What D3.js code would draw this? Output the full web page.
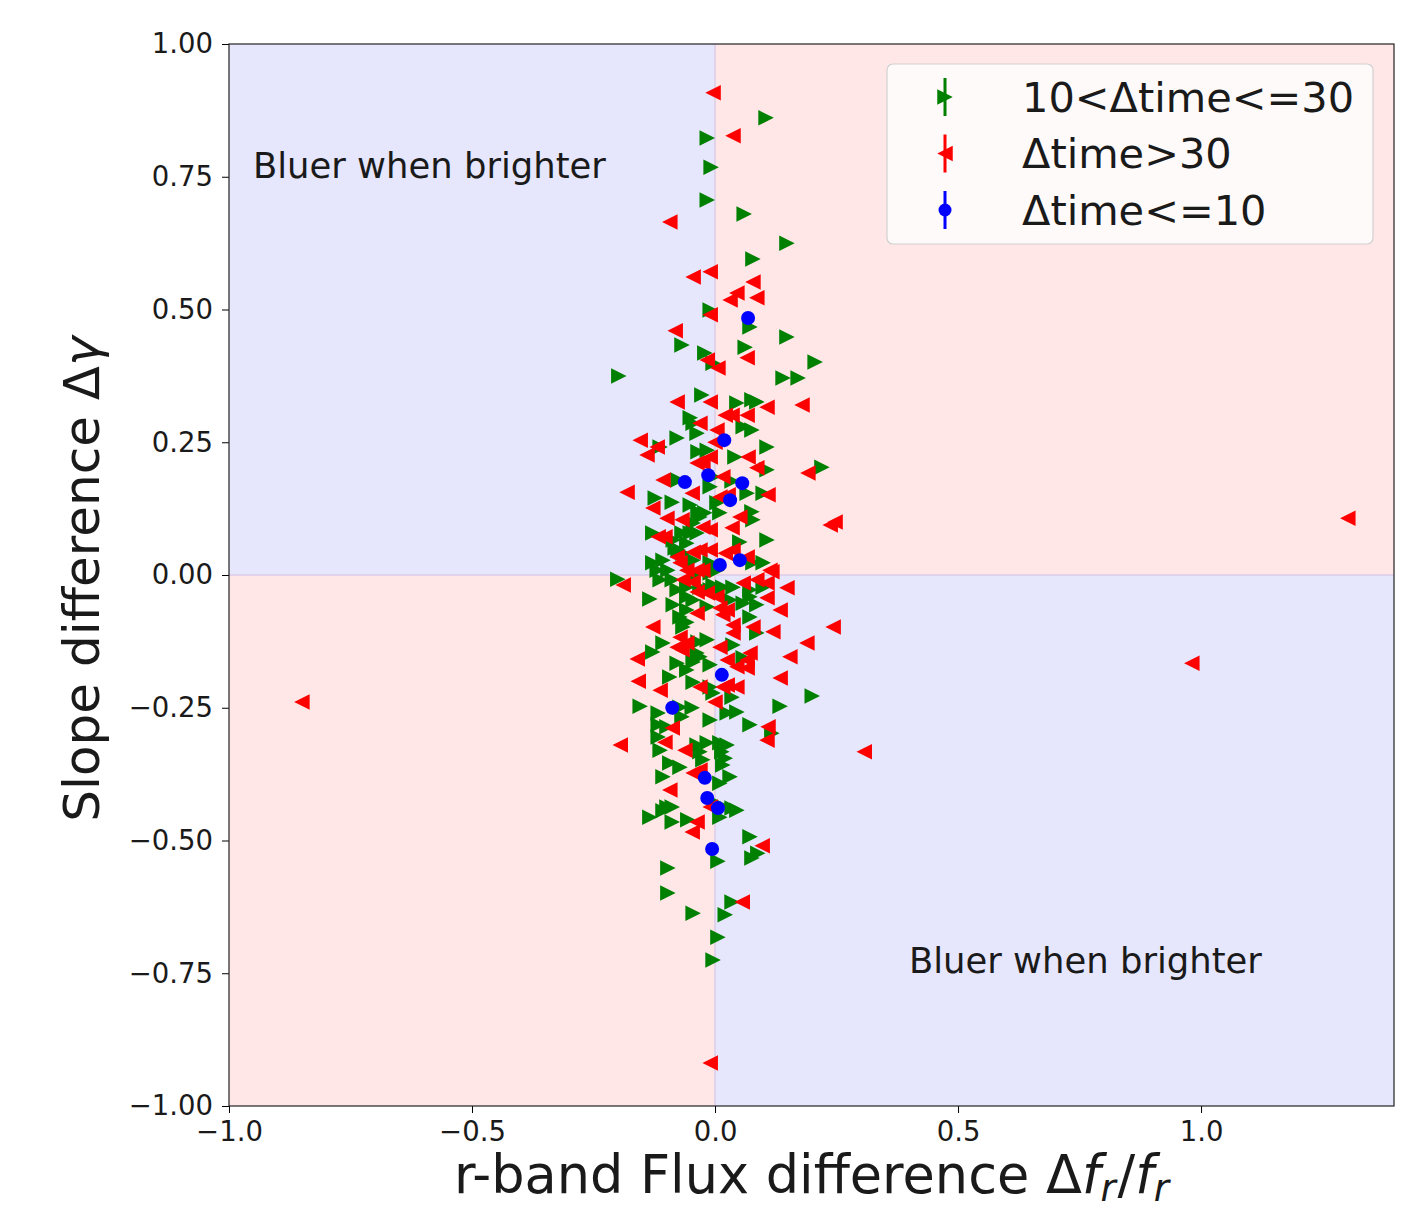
<!DOCTYPE html>
<html>
<head>
<meta charset="utf-8">
<script src="https://cdn.jsdelivr.net/npm/d3@7/dist/d3.min.js"></script>
<style>
  body { margin: 0; background: #fff; }
  svg text { font-family: "DejaVu Sans", sans-serif; fill: #1a1a1a; }
</style>
</head>
<body>
<div id="chart"></div>
<script>
// flux difference (x) and slope difference (y) per group
var greenPts = [
  [0.105,0.861],[-0.016,0.823],[-0.008,0.768],[-0.016,0.706],[0.060,0.680],[0.148,0.625],[0.078,0.595],
  [-0.010,0.499],[0.072,0.467],[0.148,0.448],[-0.068,0.433],[-0.021,0.418],[0.062,0.429],[-0.004,0.399],
  [0.206,0.401],[-0.198,0.375],[0.140,0.371],[0.171,0.371],[-0.027,0.339],[0.045,0.324],[0.076,0.330],
  [0.086,0.326],[-0.051,0.296],[-0.045,0.286],[-0.037,0.267],[0.058,0.279],[0.076,0.273],[-0.078,0.258],
  [-0.113,0.241],[0.107,0.241],[-0.035,0.232],[-0.016,0.235],[0.041,0.222],[0.107,0.198],[0.220,0.203],
  [-0.004,0.185],[-0.076,0.179],[-0.010,0.166],[0.035,0.177],[0.066,0.154],[0.099,0.154],[-0.123,0.145],
  [-0.088,0.137],[0.004,0.136],[-0.051,0.132],[-0.035,0.119],[-0.021,0.117],[0.076,0.119],[0.078,0.104],
  [0.010,0.117],[-0.031,0.109],[-0.128,0.079],[-0.086,0.066],[-0.076,0.047],[-0.068,0.079],[-0.045,0.098],
  [-0.051,0.079],[-0.037,0.079],[0.051,0.062],[0.107,0.066],[-0.082,0.051],[-0.066,0.041],[-0.058,0.060],
  [-0.045,0.028],[0.078,0.023],[0.099,0.023],[-0.128,0.023],[-0.107,0.028],[-0.119,0.009],[-0.097,0.009],
  [-0.010,0.023],[-0.010,0.004],[0.004,0.009],[-0.037,0.004],[-0.200,-0.008],[-0.113,-0.009],[-0.088,-0.009],
  [-0.078,-0.028],[-0.058,-0.023],[-0.031,-0.023],[-0.010,-0.028],[0.016,-0.023],[0.037,-0.023],[0.072,-0.028],
  [0.099,-0.023],[-0.004,-0.019],[-0.134,-0.045],[-0.058,-0.041],[-0.045,-0.047],[0.031,-0.047],[0.058,-0.053],
  [0.072,-0.041],[0.086,-0.056],[-0.086,-0.056],[-0.058,-0.066],[-0.016,-0.060],[-0.072,-0.079],[-0.058,-0.089],
  [-0.066,-0.098],[0.072,-0.079],[0.086,-0.109],[-0.035,-0.126],[-0.016,-0.122],[-0.107,-0.128],[-0.128,-0.145],
  [0.037,-0.132],[0.058,-0.156],[-0.031,-0.154],[-0.045,-0.164],[-0.078,-0.166],[-0.058,-0.179],[-0.010,-0.169],
  [-0.037,-0.147],[-0.093,-0.192],[-0.045,-0.202],[-0.004,-0.222],[0.035,-0.230],[0.200,-0.228],[-0.154,-0.247],
  [-0.117,-0.260],[-0.072,-0.249],[-0.047,-0.250],[-0.010,-0.273],[0.025,-0.260],[0.045,-0.258],[0.134,-0.247],
  [-0.068,-0.267],[-0.117,-0.282],[-0.099,-0.286],[0.072,-0.282],[0.117,-0.298],[-0.117,-0.305],[-0.113,-0.330],
  [-0.037,-0.320],[-0.016,-0.316],[0.010,-0.316],[0.025,-0.320],[-0.031,-0.333],[0.014,-0.333],[0.021,-0.345],
  [-0.025,-0.348],[-0.093,-0.354],[-0.072,-0.362],[0.016,-0.358],[0.031,-0.380],[0.010,-0.392],[-0.107,-0.380],
  [-0.099,-0.437],[-0.134,-0.456],[-0.107,-0.444],[-0.088,-0.437],[-0.088,-0.465],[-0.056,-0.461],[0.010,-0.433],
  [0.045,-0.443],[0.010,-0.456],[0.035,-0.439],[0.072,-0.493],[0.006,-0.539],[0.076,-0.533],[0.088,-0.524],
  [-0.097,-0.552],[-0.097,-0.599],[0.035,-0.616],[-0.045,-0.637],[0.021,-0.640],[0.006,-0.682],[-0.004,-0.725],
  [-0.010,-0.211]
];

var redPts = [
  [-0.004,0.908],[0.037,0.827],[-0.093,0.665],[-0.045,0.561],[-0.010,0.571],[0.078,0.552],[0.045,0.531],
  [0.031,0.518],[0.086,0.522],[-0.010,0.490],[-0.082,0.460],[0.066,0.409],[-0.016,0.405],[0.006,0.390],
  [-0.078,0.326],[-0.010,0.326],[0.107,0.316],[0.179,0.320],[-0.031,0.286],[0.021,0.301],[0.035,0.301],
  [0.066,0.301],[0.004,0.273],[-0.154,0.254],[0.000,0.250],[-0.119,0.241],[-0.140,0.226],[-0.010,0.222],
  [-0.037,0.211],[-0.025,0.211],[0.068,0.222],[0.086,0.202],[0.191,0.192],[-0.107,0.179],[0.016,0.185],
  [-0.181,0.156],[-0.047,0.154],[0.109,0.151],[-0.128,0.126],[0.010,0.147],[0.027,0.151],[0.051,0.109],
  [0.237,0.094],[0.247,0.100],[-0.099,0.107],[-0.068,0.104],[-0.117,0.072],[-0.103,0.072],[-0.025,0.090],
  [-0.010,0.085],[0.035,0.089],[-0.031,0.047],[-0.010,0.047],[0.021,0.041],[0.037,0.047],[-0.078,0.034],
  [-0.045,0.043],[0.066,0.034],[0.113,0.009],[-0.072,0.023],[-0.058,0.009],[-0.025,0.009],[-0.189,-0.019],
  [-0.066,-0.009],[-0.045,-0.013],[-0.037,0.009],[0.058,-0.015],[0.086,-0.009],[0.107,-0.015],[0.117,0.006],
  [0.148,-0.024],[-0.016,-0.034],[-0.037,-0.032],[0.004,-0.041],[0.107,-0.043],[0.134,-0.066],[0.010,-0.062],
  [0.025,-0.066],[-0.037,-0.072],[0.016,-0.075],[0.037,-0.094],[0.037,-0.109],[0.078,-0.098],[0.119,-0.107],
  [0.243,-0.098],[-0.128,-0.098],[-0.072,-0.117],[-0.078,-0.136],[-0.068,-0.141],[0.010,-0.136],[0.189,-0.128],
  [0.072,-0.147],[0.066,-0.160],[0.066,-0.175],[0.045,-0.173],[0.025,-0.160],[0.154,-0.154],[-0.160,-0.158],
  [-0.158,-0.200],[0.025,-0.207],[0.045,-0.211],[0.134,-0.194],[-0.113,-0.217],[-0.031,-0.211],[0.000,-0.239],
  [-0.088,-0.288],[0.109,-0.286],[0.107,-0.311],[-0.195,-0.320],[-0.103,-0.315],[-0.062,-0.330],[-0.045,-0.373],
  [-0.093,-0.405],[-0.037,-0.465],[-0.047,-0.484],[-0.010,-0.437],[0.056,-0.616],[-0.010,-0.919],[1.302,0.107],
  [0.981,-0.166],[-0.850,-0.239],[0.307,-0.333],[0.097,-0.510],[-0.058,-0.128],[0.016,-0.211],[-0.031,-0.367]
];

var bluePts = [
  [0.068,0.484],[0.019,0.254],[-0.062,0.175],[-0.014,0.188],[0.056,0.173],[0.031,0.141],[0.051,0.028],
  [0.010,0.019],[0.014,-0.188],[-0.088,-0.250],[-0.021,-0.382],[-0.016,-0.420],[0.006,-0.439],[-0.006,-0.516]
];

var xTicks = [-1.0, -0.5, 0.0, 0.5, 1.0];
var yTicks = [-1.00, -0.75, -0.50, -0.25, 0.00, 0.25, 0.50, 0.75, 1.00];
var legendLabels = ["10<\u0394time<=30", "\u0394time>30", "\u0394time<=10"];
var quadText = "Bluer when brighter";

var W = 1424, H = 1215;
var margin = {left: 229, top: 44, right: 30, bottom: 109};
var pw = W - margin.left - margin.right, ph = H - margin.top - margin.bottom;

var svg = d3.select("#chart").append("svg").attr("width", W).attr("height", H);
var g = svg.append("g").attr("transform", "translate(" + margin.left + "," + margin.top + ")");

var x = d3.scaleLinear().domain([-1.0, 1.397]).range([0, pw]);
var y = d3.scaleLinear().domain([-1.0, 1.0]).range([ph, 0]);

var blueBg = "#e6e6fc", redBg = "#ffe7e7";
// quadrant shading
g.append("rect").attr("x", x(-1)).attr("y", y(1)).attr("width", x(0) - x(-1)).attr("height", y(0) - y(1)).attr("fill", blueBg);
g.append("rect").attr("x", x(0)).attr("y", y(1)).attr("width", x(1.397) - x(0)).attr("height", y(0) - y(1)).attr("fill", redBg);
g.append("rect").attr("x", x(-1)).attr("y", y(0)).attr("width", x(0) - x(-1)).attr("height", y(-1) - y(0)).attr("fill", redBg);
g.append("rect").attr("x", x(0)).attr("y", y(0)).attr("width", x(1.397) - x(0)).attr("height", y(-1) - y(0)).attr("fill", blueBg);
g.append("line").attr("x1", x(0)).attr("x2", x(0)).attr("y1", 0).attr("y2", ph).attr("stroke", "#dccbe8").attr("stroke-width", 1.5);
g.append("line").attr("x1", 0).attr("x2", pw).attr("y1", y(0)).attr("y2", y(0)).attr("stroke", "#dccbe8").attr("stroke-width", 1.5);

var ms = 15.5;
function triPath(dir) {
  var h = ms / 2;
  if (dir === "right") return "M" + h + ",0L" + (-h) + "," + (-h) + "L" + (-h) + "," + h + "Z";
  return "M" + (-h) + ",0L" + h + "," + (-h) + "L" + h + "," + h + "Z";
}

g.selectAll(".green").data(greenPts).enter().append("path")
  .attr("d", triPath("right"))
  .attr("transform", function(d) { return "translate(" + x(d[0]) + "," + y(d[1]) + ")"; })
  .attr("fill", "#008000");

g.selectAll(".red").data(redPts).enter().append("path")
  .attr("d", triPath("left"))
  .attr("transform", function(d) { return "translate(" + x(d[0]) + "," + y(d[1]) + ")"; })
  .attr("fill", "#ff0000");

g.selectAll(".blue").data(bluePts).enter().append("circle")
  .attr("cx", function(d) { return x(d[0]); })
  .attr("cy", function(d) { return y(d[1]); })
  .attr("r", 7)
  .attr("fill", "#0000ff");

// quadrant labels
g.append("text").attr("x", 24).attr("y", 134).attr("font-size", 35.4).text(quadText);
g.append("text").attr("x", 680).attr("y", 929).attr("font-size", 35.4).text(quadText);

// axes
var xAxis = d3.axisBottom(x).tickValues(xTicks).tickFormat(d3.format(".1f")).tickSizeInner(7).tickSizeOuter(0).tickPadding(8);
var yAxis = d3.axisLeft(y).tickValues(yTicks).tickFormat(d3.format(".2f")).tickSizeInner(7).tickSizeOuter(0).tickPadding(9);

g.append("g").attr("transform", "translate(0," + ph + ")").call(xAxis)
  .call(function(s) { s.select(".domain").remove(); })
  .selectAll("text").attr("font-size", 27.5).attr("fill", "#1a1a1a").style("font-family", "DejaVu Sans");
g.append("g").call(yAxis)
  .call(function(s) { s.select(".domain").remove(); })
  .selectAll("text").attr("font-size", 27.5).attr("fill", "#1a1a1a").style("font-family", "DejaVu Sans");

g.append("rect").attr("x", 0).attr("y", 0).attr("width", pw).attr("height", ph)
  .attr("fill", "none").attr("stroke", "#222").attr("stroke-width", 1.2);

// legend
var lg = g.append("g").attr("transform", "translate(" + (887 - margin.left) + "," + (64 - margin.top) + ")");
lg.append("rect").attr("width", 486).attr("height", 180).attr("rx", 6)
  .attr("fill", "#ffffff").attr("fill-opacity", 0.8).attr("stroke", "#d0d0d0").attr("stroke-width", 1.2);
var legColors = ["#008000", "#ff0000", "#0000ff"];
var legShapes = ["right", "left", "circle"];
legendLabels.forEach(function(lab, i) {
  var cy = 33 + i * 56.5;
  var row = lg.append("g").attr("transform", "translate(58," + cy + ")");
  row.append("line").attr("x1", 0).attr("x2", 0).attr("y1", -19).attr("y2", 19)
    .attr("stroke", legColors[i]).attr("stroke-width", 3);
  if (legShapes[i] === "circle") {
    row.append("circle").attr("r", 6.5).attr("fill", legColors[i]);
  } else {
    row.append("path").attr("d", triPath(legShapes[i])).attr("fill", legColors[i]);
  }
  lg.append("text").attr("x", 135).attr("y", cy).attr("dy", "0.36em").attr("font-size", 41.5).text(lab);
});

// axis titles
var xl = svg.append("text").attr("x", margin.left + pw / 2).attr("y", 1193)
  .attr("text-anchor", "middle").attr("font-size", 52.5);
xl.append("tspan").text("r-band Flux difference \u0394");
xl.append("tspan").attr("font-style", "italic").text("f");
xl.append("tspan").attr("font-style", "italic").attr("font-size", 37).attr("dy", 8).text("r");
xl.append("tspan").attr("dy", -8).attr("dx", 2).text("/");
xl.append("tspan").attr("font-style", "italic").text("f");
xl.append("tspan").attr("font-style", "italic").attr("font-size", 37).attr("dy", 8).text("r");

var yl = svg.append("text").attr("transform", "translate(99," + (margin.top + ph / 2 + 4) + ") rotate(-90)")
  .attr("text-anchor", "middle").attr("font-size", 50);
yl.append("tspan").text("Slope difference \u0394");
yl.append("tspan").attr("font-style", "italic").text("\u03b3");
</script>
</body>
</html>
